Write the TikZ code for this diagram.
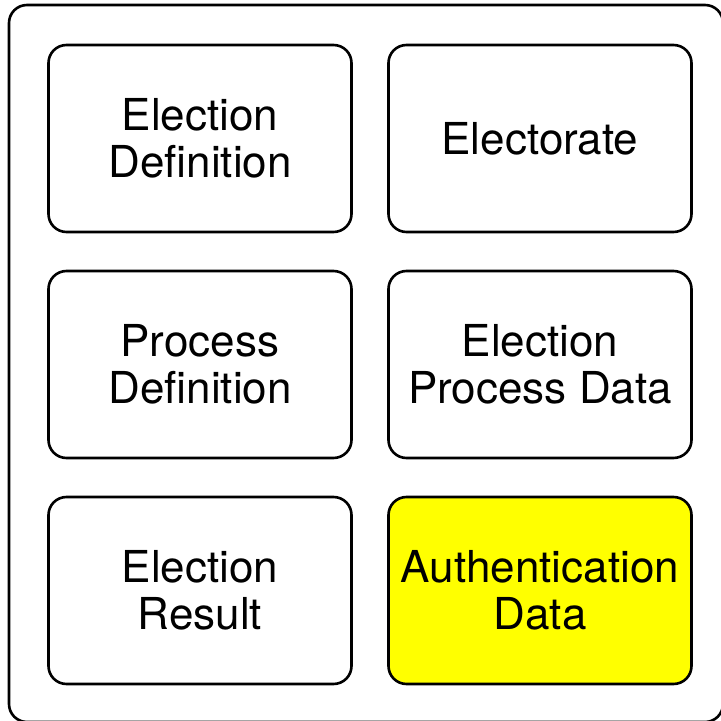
\documentclass[tikz,border=0pt]{standalone}
\usepackage{fontspec}
\setmainfont{TeX Gyre Heros}
\usetikzlibrary{positioning}
\definecolor{authyellow}{RGB}{255,255,0}
\tikzset{
  % box styles
  % gebruik: \node[datablock] (naam) {tekst};
  datablock/.style={rectangle,rounded corners=18pt,draw=black,line width=2.6pt,fill=white,
    minimum width=303pt,minimum height=187pt,inner sep=0pt,outer sep=0pt,align=center,
    font=\fontsize{44}{47}\selectfont},
  authblock/.style={datablock,fill=authyellow},
  frame/.style={rounded corners=18pt,draw=black,line width=2.6pt},
}

\begin{document}
\begin{tikzpicture}[x=1pt,y=1pt,node distance=39pt and 37pt]
  \useasboundingbox (0,0) rectangle (721,721);
  \draw[frame] (9,-1) rectangle (723,716);
  \node[datablock] (eldef) at (200,582.5) {Election\\Definition};
  \node[datablock,right=of eldef] (electorate) {Electorate};
  \node[datablock,below=of eldef] (procdef) {Process\\Definition};
  \node[datablock,below=of electorate] (procdata) {Election\\Process Data};
  \node[datablock,below=of procdef] (result) {Election\\Result};
  \node[authblock,below=of procdata] (authdata) {Authentication\\Data};
\end{tikzpicture}
\end{document}
